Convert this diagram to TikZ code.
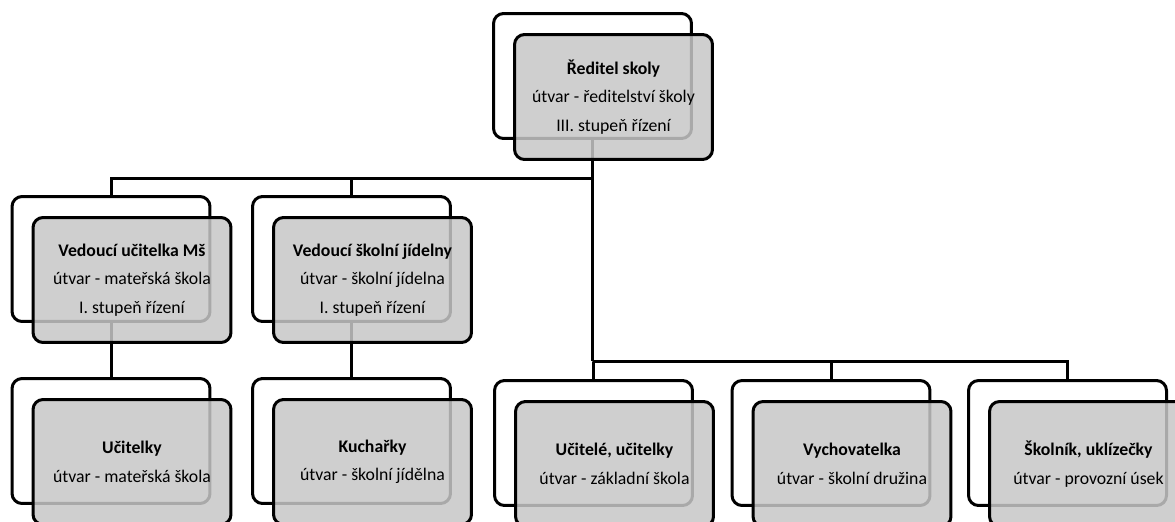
\documentclass[tikz,border=0pt]{standalone}
\usepackage{fontspec}
\setmainfont{Carlito}
\usetikzlibrary{positioning}

\begin{document}
\begin{tikzpicture}[x=0.02cm,y=-0.02cm,
  frame/.style={draw=black,line width=0.06cm,rounded corners=0.2cm,
    minimum width=3.96cm,minimum height=2.5cm,inner sep=0pt},
  backbox/.style={frame,fill=white},
  frontbox/.style={frame,fill=black!22,fill opacity=0.85,text opacity=1,
    align=center,font=\fontsize{10.1}{16.2}\selectfont},
  conn/.style={draw=black,line width=0.06cm}]
\clip (0,0) rectangle (1175,521);
% back frames
\node[backbox] (reditel) at (592.5,76) {};
\node[backbox] (vedms) at (111,259) {};
\node[backbox] (vedsj) at (351.5,259) {};
\node[backbox] (ucms) at (111,441) {};
\node[backbox] (kuch) at (351.5,441) {};
\node[backbox] (ucz) at (593.5,443) {};
\node[backbox] (vych) at (831,443) {};
\node[backbox] (skol) at (1067.5,443) {};
% connectors
\coordinate (busA) at (592.5,178);
\coordinate (busB) at (592.5,361);
\draw[conn] (reditel.south) -- (busB);
\draw[conn] (vedms.north) |- (busA);
\draw[conn] (vedsj.north) -- (vedsj.north |- busA);
\draw[conn] (vedms.south) -- (ucms.north);
\draw[conn] (vedsj.south) -- (kuch.north);
\draw[conn] (ucz.north) |- (busB);
\draw[conn] (vych.north) |- (busB);
\draw[conn] (skol.north) |- (busB);
% front boxes
\node[frontbox] (reditelT) at ([shift={(21,21)}]reditel.center)
  {\textbf{Ředitel skoly}\\útvar - ředitelství školy\\III. stupeň řízení};
\node[frontbox] (vedmsT) at ([shift={(21,21)}]vedms.center)
  {\textbf{Vedoucí učitelka Mš}\\útvar - mateřská škola\\I. stupeň řízení};
\node[frontbox] (vedsjT) at ([shift={(21,21)}]vedsj.center)
  {\textbf{Vedoucí školní jídelny}\\útvar - školní jídelna\\I. stupeň řízení};
\node[frontbox] (ucmsT) at ([shift={(21,21)}]ucms.center)
  {\textbf{Učitelky}\\útvar - mateřská škola};
\node[frontbox] (kuchT) at ([shift={(21,21)}]kuch.center)
  {\textbf{Kuchařky}\\útvar - školní jídělna};
\node[frontbox] (uczT) at ([shift={(21,21)}]ucz.center)
  {\textbf{Učitelé, učitelky}\\útvar - základní škola};
\node[frontbox] (vychT) at ([shift={(21,21)}]vych.center)
  {\textbf{Vychovatelka}\\útvar - školní družina};
\node[frontbox] (skolT) at ([shift={(21,21)}]skol.center)
  {\textbf{Školník, uklízečky}\\útvar - provozní úsek};
\end{tikzpicture}
\end{document}
